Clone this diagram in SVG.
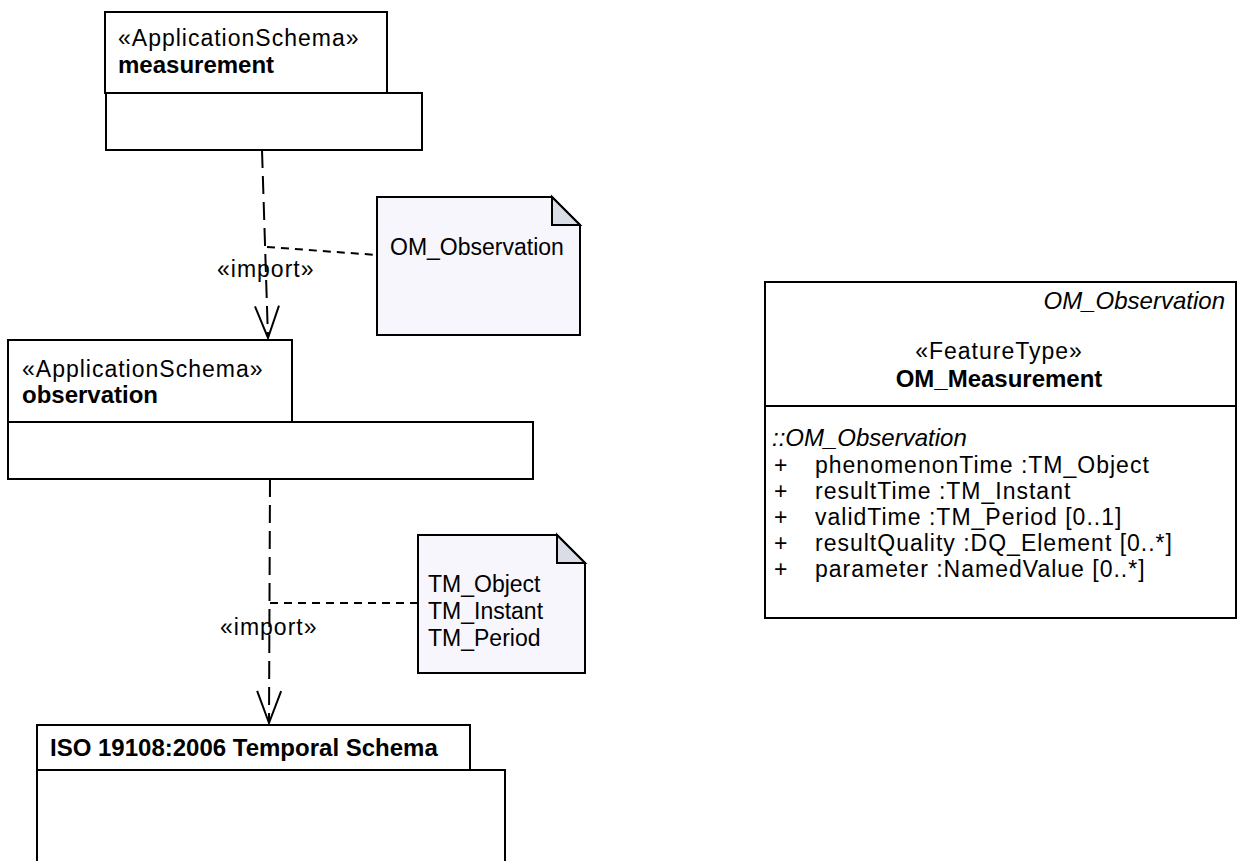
<svg xmlns="http://www.w3.org/2000/svg" width="1240" height="861" viewBox="0 0 1240 861">
<style>
.box{fill:#fff;stroke:#000;stroke-width:2}
.note{fill:#F8F6FD;stroke:#000;stroke-width:2}
.fold{fill:#DADDE5;stroke:#000;stroke-width:2;stroke-linejoin:miter}
.reg{font-family:"Liberation Sans",Arial,sans-serif;font-size:23px;letter-spacing:1px;fill:#000}
.bold{font-family:"Liberation Sans",Arial,sans-serif;font-size:24px;font-weight:bold;fill:#000}
.ital{font-family:"Liberation Sans",Arial,sans-serif;font-size:24px;font-style:italic;fill:#000}
.ntxt{font-family:"Liberation Sans",Arial,sans-serif;font-size:23px;fill:#000}
.dep{fill:none;stroke:#000;stroke-width:2;stroke-dasharray:18 8}
.link{fill:none;stroke:#000;stroke-width:2;stroke-dasharray:8 6}
</style>
<defs>
<marker id="openArrow" markerUnits="userSpaceOnUse" markerWidth="40" markerHeight="30" viewBox="-36 -15 40 30" refX="0" refY="0" orient="auto">
<path d="M-32,-12 L0,0 L-32,12" fill="none" stroke="#000" stroke-width="2"/>
</marker>
</defs>

<g id="connectors">
<path class="dep" d="M262,150 L268,338" marker-end="url(#openArrow)"/>
<path class="link" d="M267,247 L377,255"/>
<text class="reg" x="217" y="277">«import»</text>
<path class="dep" d="M270,479 L269,723" marker-end="url(#openArrow)"/>
<path class="link" d="M270,603 L418,603"/>
<text class="reg" x="220" y="635">«import»</text>
</g>

<g id="pkg-measurement">
<rect class="box" x="106" y="93" width="316" height="57"/>
<rect class="box" x="105" y="12" width="282" height="81"/>
<text class="reg" x="118" y="46">«ApplicationSchema»</text>
<text class="bold" x="118" y="73">measurement</text>
</g>

<g id="pkg-observation">
<rect class="box" x="8" y="422" width="525" height="57"/>
<rect class="box" x="8" y="340" width="284" height="82"/>
<text class="reg" x="22" y="377">«ApplicationSchema»</text>
<text class="bold" x="22" y="403">observation</text>
</g>

<g id="pkg-temporal">
<rect class="box" x="37" y="770" width="468" height="110"/>
<rect class="box" x="37" y="725" width="433" height="45"/>
<text class="bold" x="50" y="756">ISO 19108:2006 Temporal Schema</text>
</g>

<g id="note-om">
<path class="note" d="M377,197 L552,197 L580,225 L580,335 L377,335 Z"/>
<path class="fold" d="M552,197 L552,225 L580,225 Z"/>
<text class="ntxt" x="390" y="255">OM_Observation</text>
</g>

<g id="note-tm">
<path class="note" d="M418,535 L557,535 L585,563 L585,673 L418,673 Z"/>
<path class="fold" d="M557,535 L557,563 L585,563 Z"/>
<text class="ntxt" x="428" y="592">TM_Object</text>
<text class="ntxt" x="428" y="619">TM_Instant</text>
<text class="ntxt" x="428" y="646">TM_Period</text>
</g>

<g id="class-om-measurement">
<rect class="box" x="765" y="282" width="471" height="336"/>
<line x1="765" y1="406" x2="1236" y2="406" stroke="#000" stroke-width="2"/>
<text class="ital" x="1225" y="309" text-anchor="end">OM_Observation</text>
<text class="reg" x="999" y="359" text-anchor="middle">«FeatureType»</text>
<text class="bold" x="999" y="387" text-anchor="middle">OM_Measurement</text>
<text class="ital" x="772" y="446">::OM_Observation</text>
<text class="reg" x="774" y="473">+</text>
<text class="reg" x="815" y="473">phenomenonTime :TM_Object</text>
<text class="reg" x="774" y="499">+</text>
<text class="reg" x="815" y="499">resultTime :TM_Instant</text>
<text class="reg" x="774" y="525">+</text>
<text class="reg" x="815" y="525">validTime :TM_Period [0..1]</text>
<text class="reg" x="774" y="551">+</text>
<text class="reg" x="815" y="551">resultQuality :DQ_Element [0..*]</text>
<text class="reg" x="774" y="577">+</text>
<text class="reg" x="815" y="577">parameter :NamedValue [0..*]</text>
</g>
</svg>
